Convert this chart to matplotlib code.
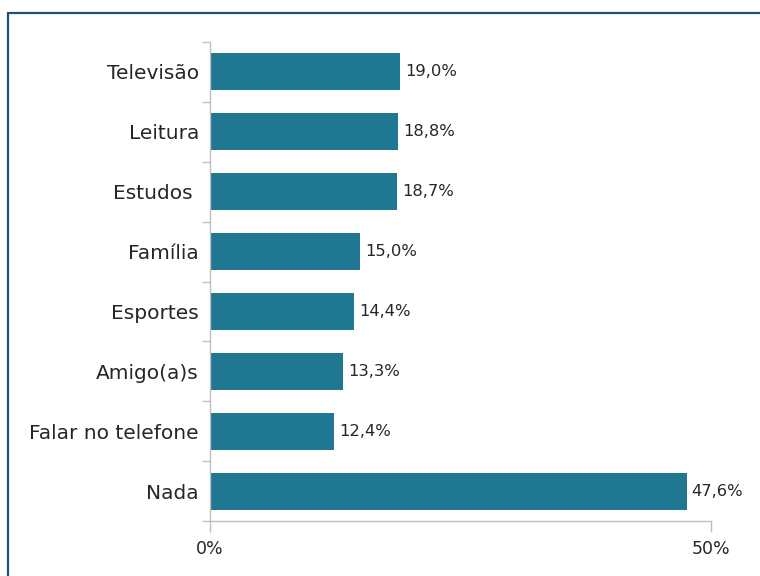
import matplotlib
matplotlib.use("Agg")
import matplotlib.pyplot as plt
from matplotlib.patches import Rectangle

categories = ["Televisão", "Leitura", "Estudos ", "Família", "Esportes",
              "Amigo(a)s", "Falar no telefone", "Nada"]
values = [19.0, 18.8, 18.7, 15.0, 14.4, 13.3, 12.4, 47.6]
xticks = [0, 50]
xtick_labels = ["0%", "50%"]

bar_color = "#1f7791"
text_color = "#262626"
axis_color = "#bfbfbf"

fig = plt.figure(figsize=(7.6, 5.76), dpi=100)
fig.patch.set_facecolor("white")

# frame around the chart area
fig.add_artist(Rectangle((8 / 760, -0.05), 1.2, 1 - 13 / 576 + 0.05,
                         transform=fig.transFigure, fill=False,
                         edgecolor="#1f4e79", linewidth=1.6))

ax = fig.add_axes([210 / 760, 1 - 521 / 576, (711 - 210) / 760, (521 - 42) / 576])

n = len(categories)
pos = list(range(n))
ax.barh(pos, values, height=0.62, color=bar_color, zorder=2)
ax.set_ylim(n - 0.5, -0.5)
ax.set_xlim(0, 50)

for p, v in zip(pos, values):
    ax.text(v + 0.45, p, f"{v:.1f}%".replace(".", ","), va="center", ha="left",
            fontsize=11.8, color=text_color)

ax.set_yticks(pos)
ax.set_yticklabels(categories, fontsize=14.5, color=text_color)
ax.tick_params(axis="y", which="major", length=0, pad=8)
ax.set_yticks([i - 0.5 for i in range(n + 1)], minor=True)
ax.tick_params(axis="y", which="minor", length=6, color=axis_color, width=1)

ax.set_xticks(xticks)
ax.set_xticklabels(xtick_labels, fontsize=12.5, color=text_color)
ax.tick_params(axis="x", length=8, color=axis_color, width=1, pad=6)

for s in ["top", "right"]:
    ax.spines[s].set_visible(False)
for s in ["left", "bottom"]:
    ax.spines[s].set_color(axis_color)
    ax.spines[s].set_linewidth(1)

fig.savefig("out.png", dpi=100, facecolor="white")
